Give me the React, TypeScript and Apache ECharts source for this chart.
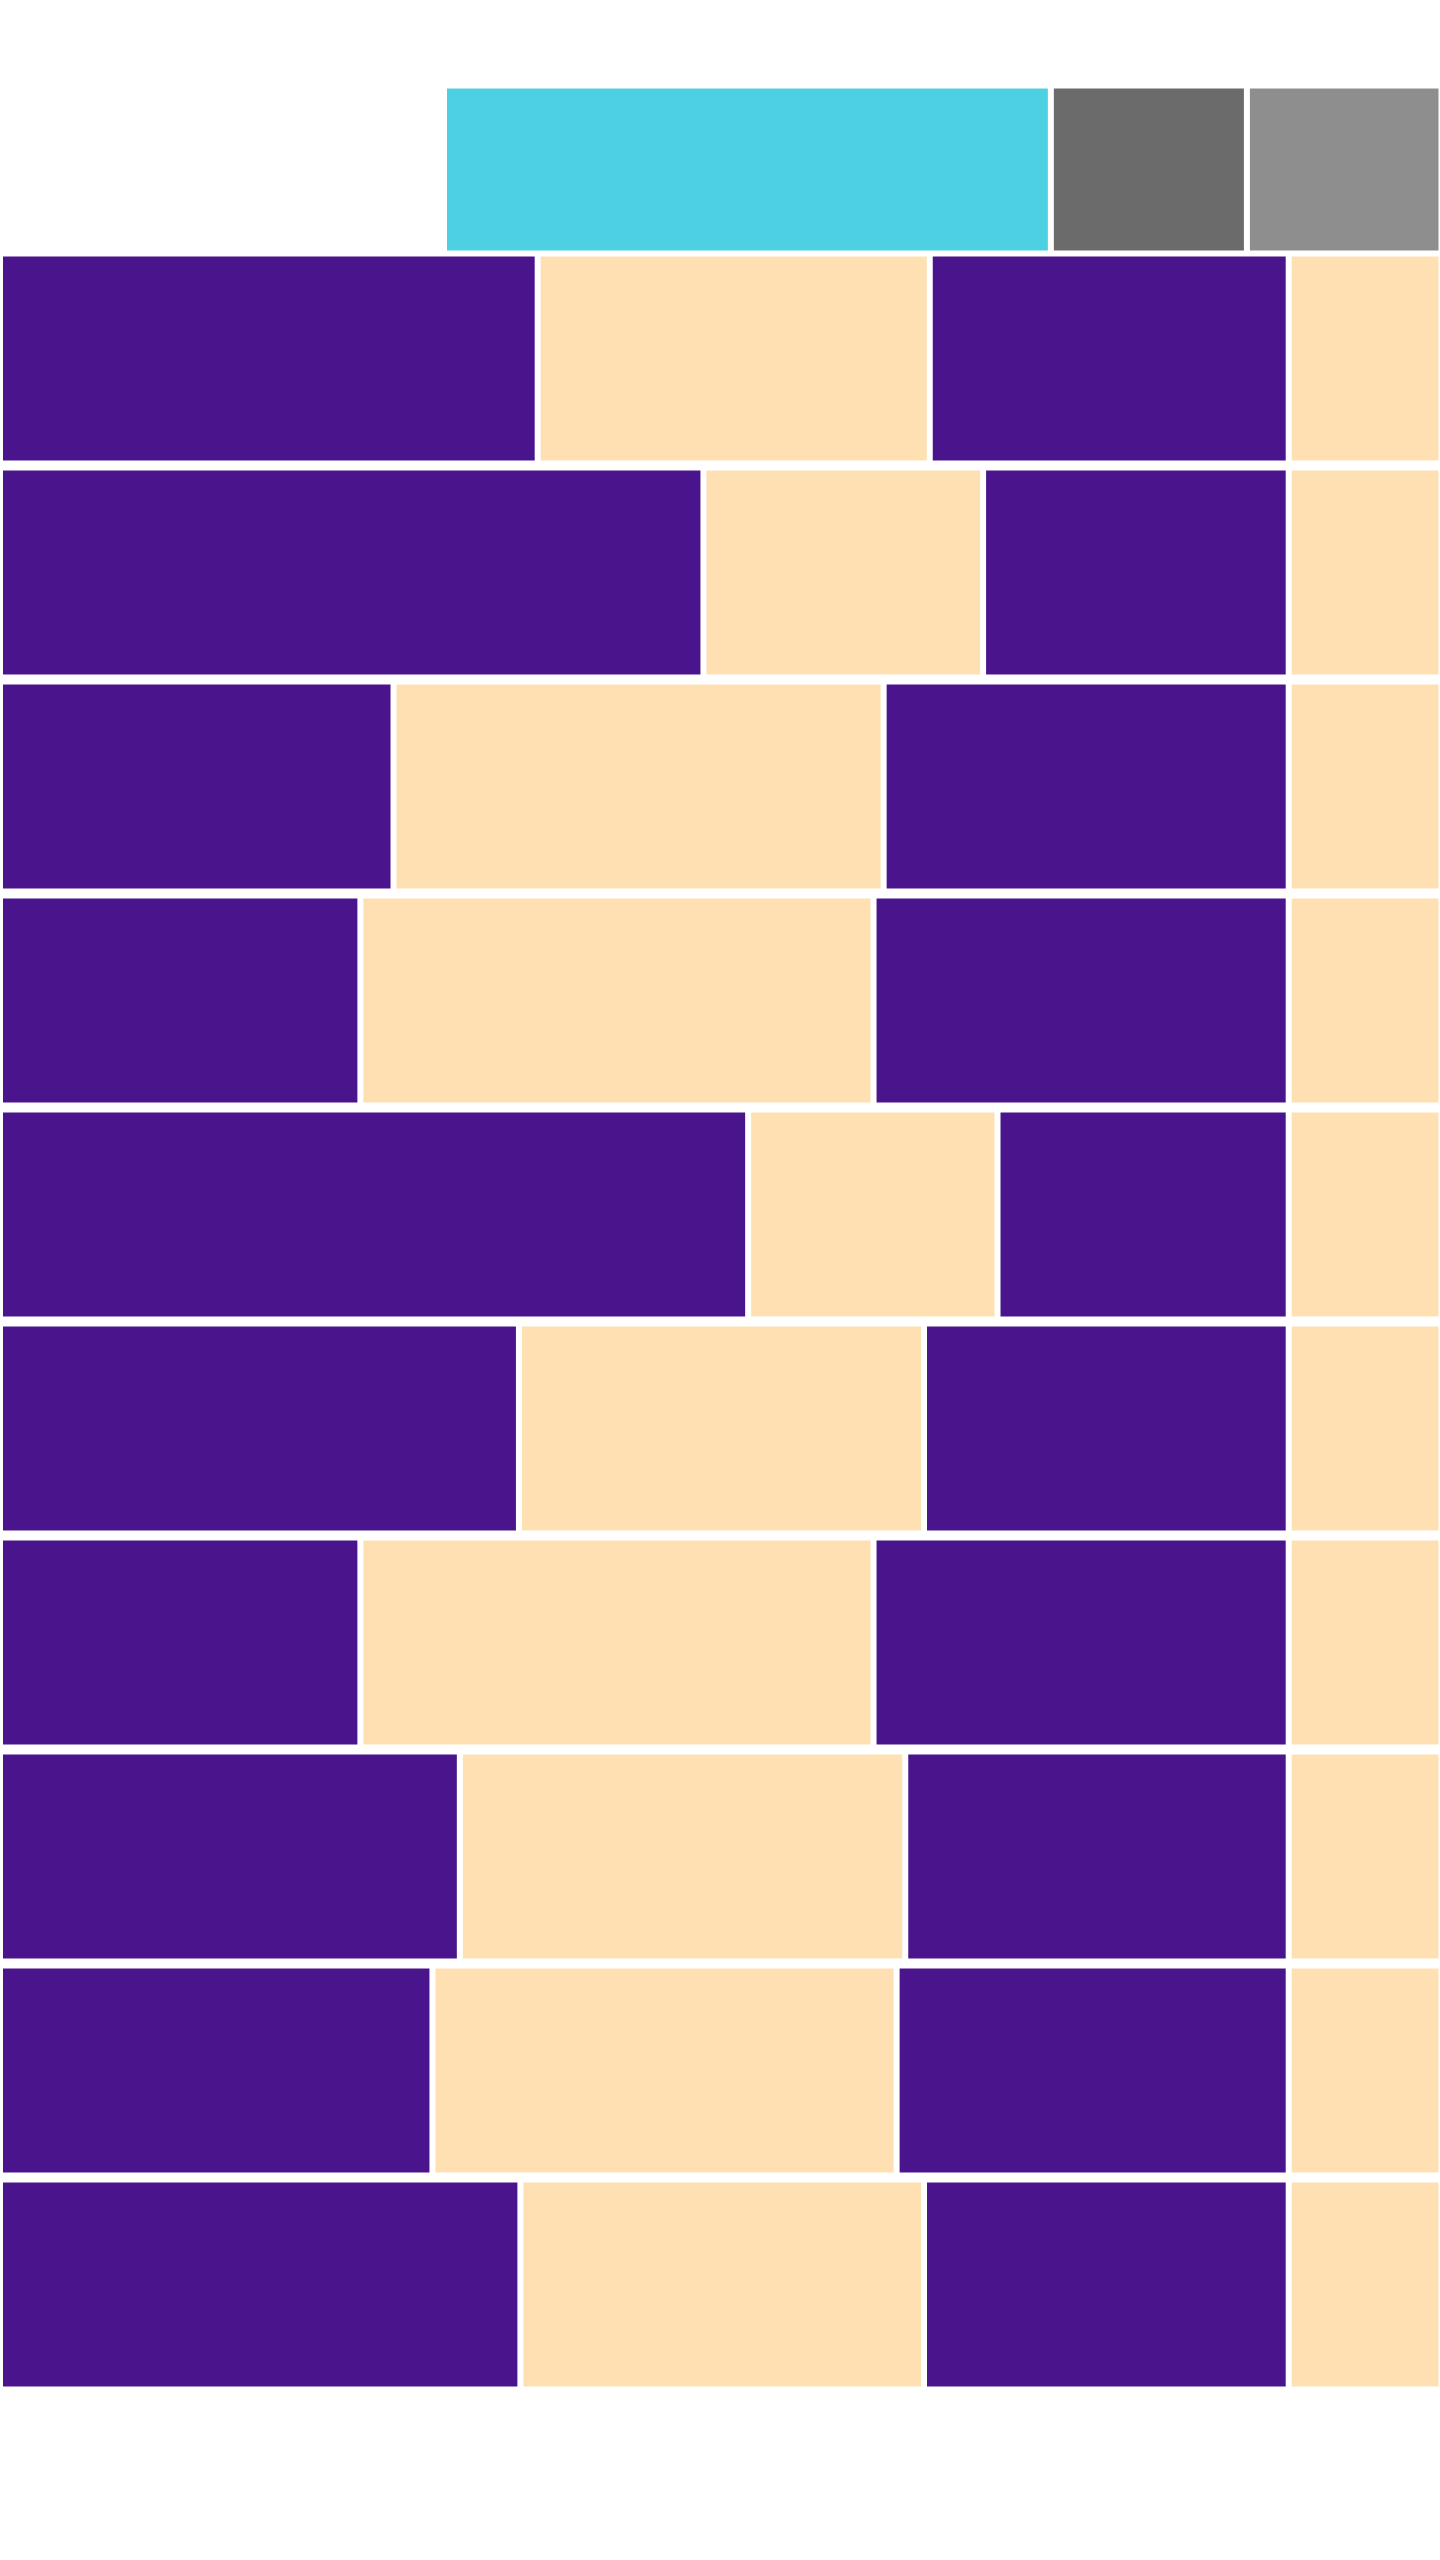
import React, { useEffect, useRef } from "react";
import * as echarts from "echarts";

// Header strip: offset (blank), then three coloured blocks (percent of width)
const headerCategories = ["header"];
const headerOffset = [30.8];
const headerCyan = [42.1];
const headerDark = [13.6];
const headerGray = [13.5];

// Ten rows, each split into four segments (percent of width)
const rowCategories = ["1", "2", "3", "4", "5", "6", "7", "8", "9", "10"];
const segA = [37.3, 48.8, 27.3, 25.0, 51.9, 36.0, 25.0, 31.9, 30.0, 36.1];
const segB = [27.2, 19.4, 34.0, 35.6, 17.3, 28.1, 35.6, 30.9, 32.2, 28.0];
const segC = [24.9, 21.2, 28.1, 28.8, 20.2, 25.3, 28.8, 26.6, 27.2, 25.3];
const segD = [10.6, 10.6, 10.6, 10.6, 10.6, 10.6, 10.6, 10.6, 10.6, 10.6];

const PURPLE = "#4A148C";
const BEIGE = "#FFE0B2";
const CYAN = "#4DD0E1";
const DARK = "#6B6B6B";
const GRAY = "#8E8E8E";

export default function App() {
  const ref = useRef<HTMLDivElement>(null);

  useEffect(() => {
    if (!ref.current) return;
    const chart = echarts.init(ref.current, undefined, { renderer: "svg" });
    const border = { borderColor: "#ffffff", borderWidth: 3 };
    const headerBar = (name: string, data: number[], color: string, withBorder = true) => ({
      name,
      type: "bar",
      stack: "header",
      xAxisIndex: 0,
      yAxisIndex: 0,
      barWidth: 168,
      data,
      silent: true,
      itemStyle: withBorder ? { color, ...border } : { color, borderWidth: 0 },
    });
    const rowBar = (name: string, data: number[], color: string) => ({
      name,
      type: "bar",
      stack: "rows",
      xAxisIndex: 1,
      yAxisIndex: 1,
      barWidth: 210,
      data,
      silent: true,
      itemStyle: { color, ...border },
    });
    chart.setOption({
      animation: false,
      backgroundColor: "#ffffff",
      grid: [
        { left: 0, right: 1.5, top: 85.5, height: 168, containLabel: false },
        { left: 0, right: 1.5, top: 251.5, height: 2140, containLabel: false },
      ],
      xAxis: [
        { type: "value", gridIndex: 0, min: 0, max: 100, show: false },
        { type: "value", gridIndex: 1, min: 0, max: 100, show: false },
      ],
      yAxis: [
        { type: "category", gridIndex: 0, data: headerCategories, show: false },
        { type: "category", gridIndex: 1, data: rowCategories, inverse: true, show: false },
      ],
      series: [
        headerBar("offset", headerOffset, "transparent", false),
        headerBar("cyan", headerCyan, CYAN),
        headerBar("dark", headerDark, DARK),
        headerBar("gray", headerGray, GRAY),
        rowBar("A", segA, PURPLE),
        rowBar("B", segB, BEIGE),
        rowBar("C", segC, PURPLE),
        rowBar("D", segD, BEIGE),
      ],
    });
    return () => chart.dispose();
  }, []);

  return (
    <div
      style={{ position: "absolute", left: 0, top: 0, width: 1440, height: 2560, overflow: "hidden", background: "#ffffff" }}
    >
      <div ref={ref} style={{ width: 1443, height: 2560 }} />
    </div>
  );
}
